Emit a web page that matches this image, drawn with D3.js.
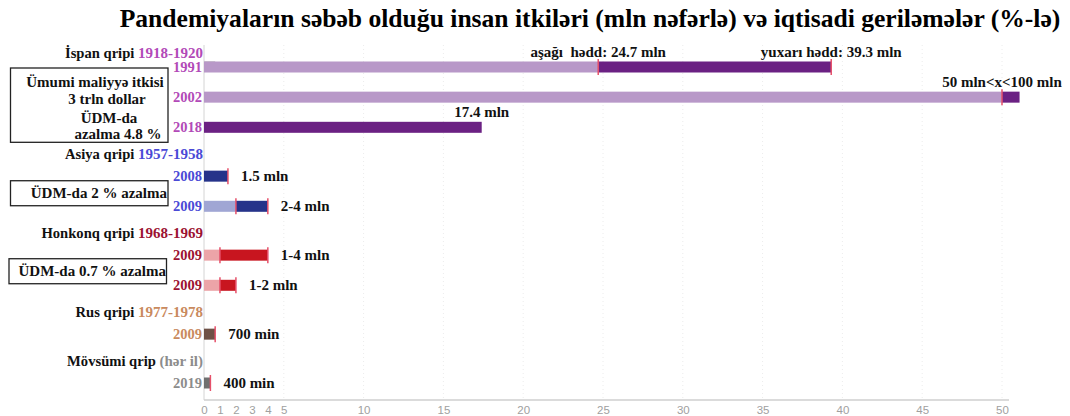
<!DOCTYPE html>
<html><head><meta charset="utf-8">
<script src="https://cdn.jsdelivr.net/npm/d3@7"></script>
<style>
html,body{margin:0;padding:0;background:#fff;}
svg{display:block;}
</style></head>
<body>
<svg id="chart" width="1070" height="416"></svg>
<script>
// ---------- DATA ----------
const titleText = "Pandemiyaların səbəb olduğu insan itkiləri (mln nəfərlə) və iqtisadi geriləmələr (%-lə)";
const groupNames = ["İspan qripi", "Asiya qripi", "Honkonq qripi", "Rus qripi", "Mövsümi qrip"];
const groupPeriods = ["1918-1920", "1957-1958", "1968-1969", "1977-1978", "(hər il)"];
const rowGroup = [0, 0, 0, 1, 1, 2, 2, 3, 4];
const rowYears = ["1991", "2002", "2018", "2008", "2009", "2009", "2009", "2009", "2019"];
const lowValues = [24.7, 50, 0, 0, 2, 1, 1, 0, 0];
const highValues = [39.3, 51.1, 17.4, 1.5, 4, 4, 2, 0.7, 0.4];
const markValues = [[24.7, 39.3], [50], [], [1.5], [2, 4], [1, 4], [1, 2], [0.7], [0.4]];
const rightLabels = ["", "", "", "1.5 mln", "2-4 mln", "1-4 mln", "1-2 mln", "700 min", "400 min"];
const aboveLabelRows = [0, 0, 1, 2];
const aboveLabelValues = [24.7, 39.3, 50, 17.4];
const aboveLabelTexts = ["aşağı\u00a0 hədd: 24.7 mln", "yuxarı hədd: 39.3 mln", "50 mln<x<100 mln", "17.4 mln"];
const tickValues = [0, 1, 2, 3, 4, 5, 10, 15, 20, 25, 30, 35, 40, 45, 50];
const box1Lines = ["Ümumi maliyyə itkisi", "3 trln dollar", "ÜDM-da", "azalma 4.8 %"];
const box2Text = "ÜDM-da 2 % azalma";
const box3Text = "ÜDM-da 0.7 % azalma";

// ---------- STYLE ----------
const periodColors = ["#b24ab8", "#4a4ad6", "#9c1232", "#c98a5e", "#8c8c8c"];
const lightColors = ["#b898c8", "#a0a6d4", "#eca4a8", "#6e5046", "#707070"];
const darkColors = ["#6b2183", "#26338a", "#c8151f", "#6e5046", "#707070"];
const markColor = "#e6506a";
const serif = "'Liberation Serif','Times New Roman',serif";
const sans = "'Liberation Sans',Arial,sans-serif";
const fs = "15px";

const svg = d3.select("#chart");
const x = d3.scaleLinear().domain([0, 50]).range([204, 1002]);
const groupGap = 0.62;
const slot = rowGroup.map((g, i) => i + g * groupGap);
const y = d3.scaleLinear().domain([0, d3.max(slot)]).range([67, 383]);
const rowY = i => y(slot[i]);
const barH = 11;

// title
svg.append("text").attr("x", 590).attr("y", 27).attr("text-anchor", "middle")
  .style("font-family", serif).style("font-weight", "bold").style("font-size", "25.6px")
  .text(titleText);

// gridlines
const axisY = 400;
svg.append("g").selectAll("line").data(tickValues.filter(v => v >= 5)).join("line")
  .attr("x1", d => x(d)).attr("x2", d => x(d)).attr("y1", 45).attr("y2", axisY)
  .attr("stroke", "#ececec").attr("stroke-dasharray", "1,3");

// vertical axis line
svg.append("line").attr("x1", x(0)).attr("x2", x(0)).attr("y1", 45).attr("y2", axisY)
  .attr("stroke", "#d4d4d4").attr("stroke-width", 1);
svg.append("line").attr("x1", x(0)).attr("x2", x(0.7)).attr("y1", 61.5).attr("y2", 61.5)
  .attr("stroke", "#d0d0d0");

// x axis
const axis = d3.axisBottom(x).tickValues(tickValues).tickSize(0).tickPadding(6).tickFormat(d3.format("d"));
const ax = svg.append("g").attr("transform", `translate(0,${axisY})`).call(axis);
ax.select(".domain").attr("stroke", "#cfcfcf").attr("d", `M${x(0)},0H1009`).attr("stroke-width", 1.5);
ax.selectAll("text").style("font-family", sans).style("font-size", "11.5px").attr("fill", "#a0a0a0");

// bars
const rows = rowYears.map((yr, i) => ({i, yr, g: rowGroup[i], lo: lowValues[i], hi: highValues[i]}));
const bars = svg.append("g");
bars.selectAll(".light").data(rows.filter(r => r.lo > 0)).join("rect")
  .attr("x", x(0)).attr("y", r => rowY(r.i) - barH / 2)
  .attr("width", r => x(r.lo) - x(0)).attr("height", barH)
  .attr("fill", r => lightColors[r.g]);
bars.selectAll(".dark").data(rows).join("rect")
  .attr("x", r => x(r.lo)).attr("y", r => rowY(r.i) - barH / 2)
  .attr("width", r => x(r.hi) - x(r.lo)).attr("height", barH)
  .attr("fill", r => darkColors[r.g]);

// marks
const marks = rows.flatMap(r => markValues[r.i].map(v => ({i: r.i, v})));
svg.append("g").selectAll("line").data(marks).join("line")
  .attr("x1", d => x(d.v)).attr("x2", d => x(d.v))
  .attr("y1", d => rowY(d.i) - 8).attr("y2", d => rowY(d.i) + 8)
  .attr("stroke", markColor).attr("stroke-width", 1.5);

// year labels
svg.append("g").selectAll("text").data(rows).join("text")
  .attr("x", 202).attr("y", r => rowY(r.i) + 5).attr("text-anchor", "end")
  .style("font-family", serif).style("font-weight", "bold").style("font-size", "14.5px")
  .attr("fill", r => periodColors[r.g]).text(r => r.yr);

// group headers
const firstRow = groupNames.map((n, g) => rowGroup.indexOf(g));
const headers = svg.append("g").selectAll("text").data(groupNames).join("text")
  .attr("x", 203).attr("y", (n, g) => rowY(firstRow[g]) - (g === 0 ? 9 : 17)).attr("text-anchor", "end")
  .style("font-family", serif).style("font-weight", "bold").style("font-size", "14.6px");
headers.append("tspan").attr("fill", "#111").text(n => n + " ");
headers.append("tspan").attr("fill", (n, g) => periodColors[g]).style("font-size", "15px")
  .text((n, g) => groupPeriods[g]);

// right labels
svg.append("g").selectAll("text").data(rows.filter(r => rightLabels[r.i])).join("text")
  .attr("x", r => x(r.hi) + 13).attr("y", r => rowY(r.i) + 5)
  .style("font-family", serif).style("font-weight", "bold").style("font-size", fs)
  .attr("fill", "#111").text(r => rightLabels[r.i]);

// above labels
svg.append("g").selectAll("text").data(aboveLabelTexts).join("text")
  .attr("x", (t, k) => x(aboveLabelValues[k])).attr("y", (t, k) => rowY(aboveLabelRows[k]) - barH / 2 - 5)
  .attr("text-anchor", "middle")
  .style("font-family", serif).style("font-weight", "bold").style("font-size", fs)
  .attr("fill", "#111").text(t => t);

// boxes
const boxStyle = sel => sel.attr("fill", "none").attr("stroke", "#222").attr("stroke-width", 1.3);
const bx0 = 10.5, bx1 = 168;
svg.append("rect").attr("x", bx0).attr("y", rowY(0) + 1).attr("width", bx1 - bx0)
  .attr("height", rowY(2) + 15 - rowY(0) - 1).call(boxStyle);
const b1x = [95, 107, 109, 118];
const b1dy = [20, 37, 56, 72];
svg.append("g").selectAll("text").data(box1Lines).join("text")
  .attr("x", (t, k) => b1x[k]).attr("y", (t, k) => rowY(0) + b1dy[k]).attr("text-anchor", "middle")
  .style("font-family", serif).style("font-weight", "bold").style("font-size", fs)
  .attr("fill", "#111").text(t => t);

const mid34 = (rowY(3) + rowY(4)) / 2 + 2;
svg.append("rect").attr("x", bx0).attr("y", mid34 - 12.5).attr("width", bx1 - bx0).attr("height", 25).call(boxStyle);
svg.append("text").attr("x", 167).attr("y", mid34 + 5).attr("text-anchor", "end")
  .style("font-family", serif).style("font-weight", "bold").style("font-size", fs)
  .attr("fill", "#111").text(box2Text);

const mid56 = (rowY(5) + rowY(6)) / 2 + 1;
svg.append("rect").attr("x", bx0 - 1.5).attr("y", mid56 - 12.5).attr("width", bx1 - bx0).attr("height", 25).call(boxStyle);
svg.append("text").attr("x", 166).attr("y", mid56 + 5).attr("text-anchor", "end")
  .style("font-family", serif).style("font-weight", "bold").style("font-size", fs)
  .attr("fill", "#111").text(box3Text);
</script>
</body></html>
